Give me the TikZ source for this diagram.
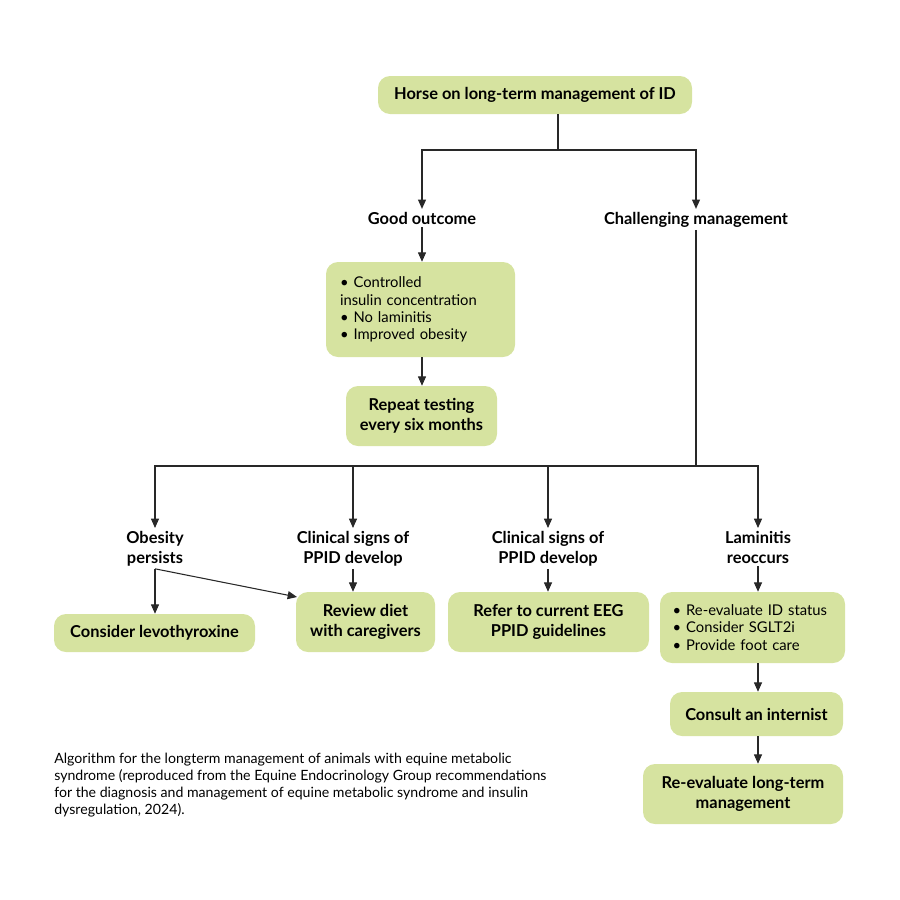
\documentclass[tikz,border=0pt]{standalone}
\usepackage{fontspec}
\setmainfont{Lato}
\usetikzlibrary{arrows.meta,positioning}

\definecolor{boxgreen}{RGB}{214,227,160}
\definecolor{linegray}{RGB}{40,40,40}

\begin{document}
\begin{tikzpicture}[x=0.75pt,y=0.75pt,yscale=-1,xscale=1,
  box/.style={fill=boxgreen, rounded corners=9pt, align=center, inner sep=2pt,
    font=\bfseries\fontsize{12.3}{15}\selectfont},
  listbox/.style={fill=boxgreen, rounded corners=9pt, align=left, inner ysep=0pt,
    font=\fontsize{11.1}{13}\selectfont},
  lbl/.style={align=center, inner sep=2pt, font=\bfseries\fontsize{12.3}{15}\selectfont},
  arr/.style={draw=linegray, line width=0.8pt, -{Triangle[length=7pt,width=6pt]}},
  ln/.style={draw=linegray, line width=0.8pt}]
\useasboundingbox (0,0) rectangle (900,900);

% Top box
\node [box, minimum width=235.5pt, minimum height=28.5pt] (horse) at (535,95) {Horse on long-term management of ID};
% Outcomes
\node [lbl, anchor=base] (good) at (422,224) {Good outcome};
\node [lbl, anchor=base] (chall) at (696,224) {Challenging management};
% Good outcome branch
\node [listbox, inner xsep=10.5pt, text width=120.75pt, minimum height=71.25pt] (ctrl) at (420.5,309.5)
  {\textbullet\ Controlled\\insulin concentration\\\textbullet\ No laminitis\\\textbullet\ Improved obesity};
\node [box, minimum width=113.25pt, minimum height=45pt] (repeat) at (421.5,416) {Repeat testing\\every six months};
% Challenging management branches
\node [lbl, anchor=north] (obes) at (155,528) {Obesity\\persists};
\node [lbl, anchor=north] (clinA) at (353,528) {Clinical signs of\\PPID develop};
\node [lbl, anchor=north] (clinB) at (548,528) {Clinical signs of\\PPID develop};
\node [lbl, anchor=north] (lamin) at (758,528) {Laminitis\\reoccurs};
% Actions
\node [box, minimum width=150.75pt, minimum height=28.5pt] (levo) at (154.5,633) {Consider levothyroxine};
\node [box, minimum width=104.25pt, minimum height=45pt] (review) at (365.5,622) {Review diet\\with caregivers};
\node [box, minimum width=150.75pt, minimum height=45pt] (refer) at (548.5,622) {Refer to current EEG\\PPID guidelines};
\node [listbox, inner xsep=9.5pt, text width=119.75pt, minimum height=53.25pt] (lambox) at (752.5,627.5)
  {\textbullet\ Re-evaluate ID status\\\textbullet\ Consider SGLT2i\\\textbullet\ Provide foot care};
\node [box, minimum width=129.75pt, minimum height=33pt] (consult) at (756.5,714) {Consult an internist};
\node [box, minimum width=150pt, minimum height=45pt] (reeval) at (743,794) {Re-evaluate long-term\\management};
% Caption
\node [anchor=north west, align=left, inner sep=0pt, font=\fontsize{10.6}{12.75}\selectfont] (caption) at (54,753)
  {Algorithm for the longterm management of animals with equine metabolic\\
   syndrome (reproduced from the Equine Endocrinology Group recommendations\\
   for the diagnosis and management of equine metabolic syndrome and insulin\\
   dysregulation, 2024).};

% Connectors
\coordinate (splitA) at (558,150);
\coordinate (splitB) at (696,466);
\coordinate (revin) at (297,597);
\draw [ln] (horse.south -| splitA) -- (splitA);
\draw [arr] (splitA) -| (good.north);
\draw [arr] (splitA) -| (chall.north);
\draw [arr] (good.south) -- (good.south |- ctrl.north);
\draw [arr] (ctrl.south -| good.south) -- (repeat.north -| good.south);
\draw [ln] (chall.south) -- (splitB);
\draw [arr] (splitB) -| (obes.north);
\draw [arr] (splitB) -| (clinA.north);
\draw [arr] (splitB) -| (clinB.north);
\draw [arr] (splitB) -| (lamin.north);
\draw [arr] (obes.south) -- (levo.north -| obes.south);
\draw [arr] (obes.south) -- (revin);
\draw [arr] (clinA.south) -- (review.north -| clinA.south);
\draw [arr] (clinB.south) -- (refer.north -| clinB.south);
\draw [arr] (lamin.south) -- (lambox.north -| lamin.south);
\draw [arr] (lambox.south -| lamin.south) -- (consult.north -| lamin.south);
\draw [arr] (consult.south -| lamin.south) -- (reeval.north -| lamin.south);
\end{tikzpicture}
\end{document}
